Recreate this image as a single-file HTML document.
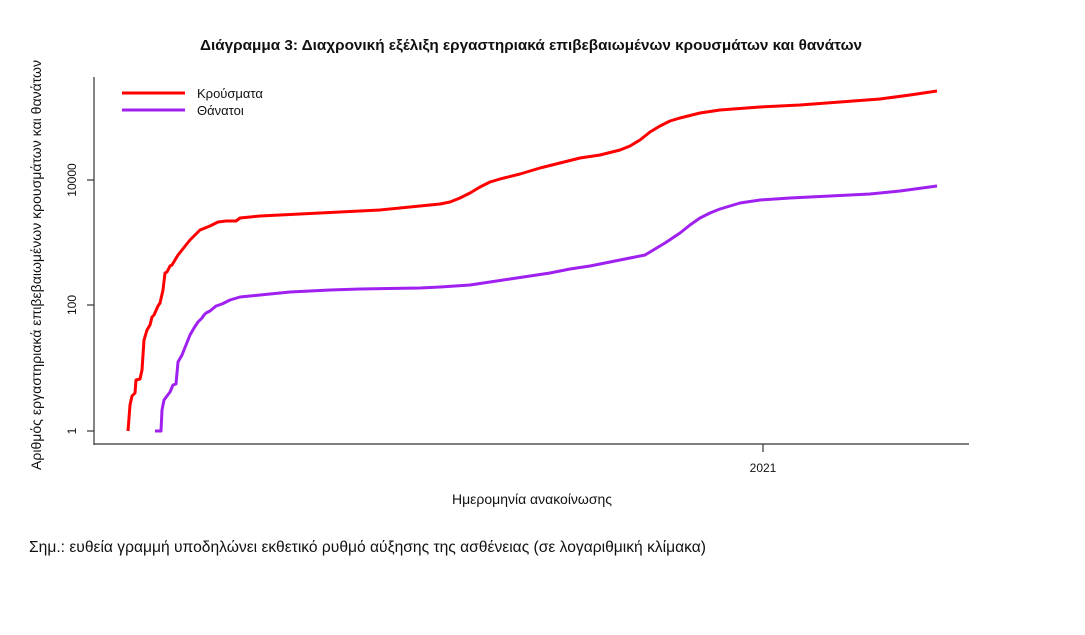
<!DOCTYPE html>
<html><head><meta charset="utf-8"><style>
body{margin:0;background:#fff;}
svg text{font-family:"Liberation Sans","DejaVu Sans",sans-serif;fill:#111;}
</style></head><body>
<svg width="1085" height="630" xmlns="http://www.w3.org/2000/svg">
<text x="531" y="50" text-anchor="middle" font-size="15" font-weight="bold" textLength="662" lengthAdjust="spacingAndGlyphs">Διάγραμμα 3: Διαχρονική εξέλιξη εργαστηριακά επιβεβαιωμένων κρουσμάτων και θανάτων</text>
<g stroke="#333" stroke-width="1.2" fill="none">
<line x1="94" y1="77" x2="94" y2="445"/>
<line x1="94" y1="444" x2="969" y2="444"/>
<line x1="87" y1="431" x2="94" y2="431"/>
<line x1="87" y1="305" x2="94" y2="305"/>
<line x1="87" y1="180" x2="94" y2="180"/>
<line x1="763" y1="444" x2="763" y2="452"/>
</g>
<g font-size="12" text-anchor="middle">
<text transform="translate(76,431) rotate(-90)">1</text>
<text transform="translate(76,305) rotate(-90)">100</text>
<text transform="translate(76,180) rotate(-90)">10000</text>
<text x="763" y="472">2021</text>
<text x="532" y="504" font-size="13.5" textLength="160" lengthAdjust="spacingAndGlyphs">Ημερομηνία ανακοίνωσης</text>
<text transform="translate(41,265) rotate(-90)" font-size="13.5" textLength="410" lengthAdjust="spacingAndGlyphs">Αριθμός εργαστηριακά επιβεβαιωμένων κρουσμάτων και θανάτων</text>
</g>
<text x="29" y="552" font-size="15.5" textLength="677" lengthAdjust="spacingAndGlyphs">Σημ.: ευθεία γραμμή υποδηλώνει εκθετικό ρυθμό αύξησης της ασθένειας (σε λογαριθμική κλίμακα)</text>
<line x1="122" y1="93" x2="185" y2="93" stroke="#ff0000" stroke-width="3"/>
<line x1="122" y1="110" x2="185" y2="110" stroke="#a020f0" stroke-width="3"/>
<text x="197" y="98" font-size="13">Κρούσματα</text>
<text x="197" y="115" font-size="13">Θάνατοι</text>
<polyline fill="none" stroke="#ff0000" stroke-width="3" stroke-linejoin="round" points="128,431 130,405 132,396 135,393 136,380 140,379 142,370 144,340 147,330 150,325 152,317 154,315 158,306 160,303 163,290 165,273 167,272 170,266 172,265 175,260 178,255 182,250 186,245 190,240 195,235 200,230 205,228 210,226 218,222 226,221 236,221 240,218 260,216 300,214 340,212 380,210 400,208 420,206 440,204 450,202 460,198 470,193 480,187 490,182 500,179 520,174 540,168 560,163 580,158 600,155 620,150 630,146 640,140 650,132 660,126 670,121 680,118 700,113 720,110 760,107 800,105 840,102 880,99 910,95 937,91"/>
<polyline fill="none" stroke="#a020f0" stroke-width="3" stroke-linejoin="round" points="155,431 161,431 162,410 164,400 167,396 170,392 173,385 176,384 178,362 182,355 186,345 190,335 194,328 198,322 202,318 204,315 206,313 210,311 216,306 222,304 230,300 240,297 260,295 290,292 330,290 360,289 420,288 440,287 470,285 490,282 510,279 530,276 550,273 570,269 590,266 610,262 630,258 645,255 655,249 665,243 680,233 690,225 700,218 710,213 720,209 740,203 760,200 790,198 830,196 870,194 900,191 937,186"/>
</svg>
</body></html>
